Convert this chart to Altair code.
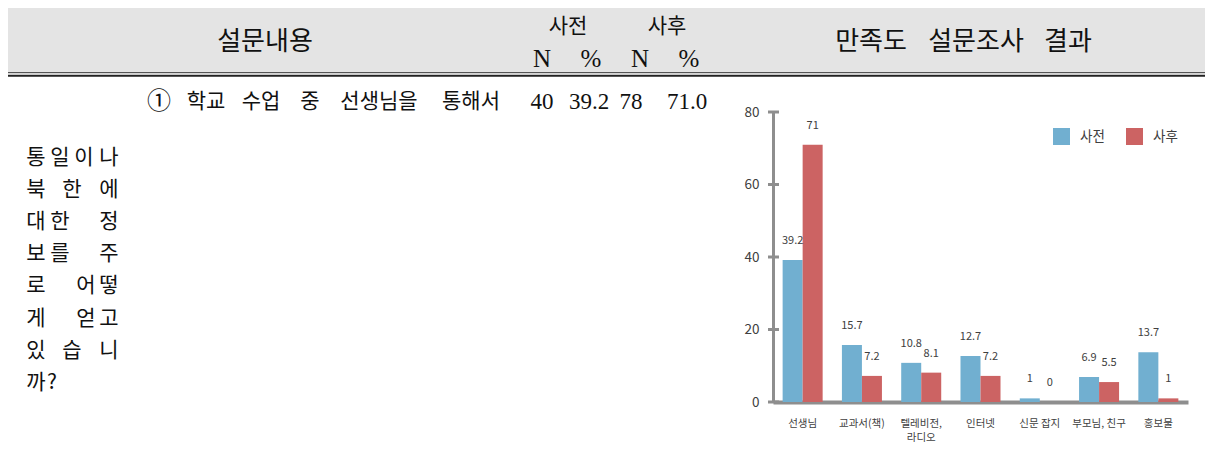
import altair as alt
import pandas as pd

# ---------------- data ----------------
categories = ["선생님", "교과서(책)", "텔레비전,\n라디오", "인터넷", "신문 잡지", "부모님, 친구", "홍보물"]
groups = ["사전", "사후"]
pre_values = [39.2, 15.7, 10.8, 12.7, 1, 6.9, 13.7]
post_values = [71, 7.2, 8.1, 7.2, 0, 5.5, 1]
y_ticks = [0, 20, 40, 60, 80]

header_left = "설문내용"
header_right_words = ["만족도", "설문조사", "결과"]
col_groups = ["사전", "사후"]
col_sub = ["N", "%", "N", "%"]
row_words = ["①", "학교", "수업", "중", "선생님을", "통해서"]
row_numbers = ["40", "39.2", "78", "71.0"]
question_lines = ["통일이나", "북한에", "대한정", "보를주", "로어떻", "게얻고", "있습니", "까?"]

# ---------------- layout (page pixels) ----------------
PX0, PY0 = 773, 112          # page position of plot origin
W, H = 415, 290
header_left_pos = (265, 42)
header_right_x = [871, 976, 1068]
col_group_x = [568, 667]
col_sub_x = [542, 591, 640, 689]
row_word_x = [159, 206, 261, 310, 379, 471]
row_word_fs = [24, 21, 21, 21, 21, 21]
row_num_x = [542, 589, 631, 687]
row_y = 102
q_slots = [[36, 60, 84, 109], [36, 72, 109], [36, 60, 109], [36, 60, 109],
           [36, 86, 109], [36, 86, 109], [36, 72, 109], [36, 52]]
q_y0, q_dy = 158, 32.1

sans_rows, serif_rows = [], []
def add(rows, t, x, y, fs):
    rows.append({"t": t, "px": x - PX0, "py": y - PY0, "fs": fs})

add(sans_rows, header_left, header_left_pos[0], header_left_pos[1], 26)
for w, x in zip(header_right_words, header_right_x):
    add(sans_rows, w, x, 42, 26)
for w, x in zip(col_groups, col_group_x):
    add(sans_rows, w, x, 26.5, 21)
for w, x in zip(col_sub, col_sub_x):
    add(serif_rows, w, x, 58.5, 25)
for w, x, fs in zip(row_words, row_word_x, row_word_fs):
    add(sans_rows, w, x, row_y, fs)
for w, x in zip(row_numbers, row_num_x):
    add(serif_rows, w, x, row_y, 23)
for i, (line, slots) in enumerate(zip(question_lines, q_slots)):
    for ch, x in zip(line, slots):
        add(sans_rows, ch, x, q_y0 + q_dy * i, 21)

sans_df = pd.DataFrame(sans_rows)
serif_df = pd.DataFrame(serif_rows)

bars_df = pd.DataFrame({
    "category": categories * 2,
    "group": [groups[0]] * len(categories) + [groups[1]] * len(categories),
    "value": pre_values + post_values,
})
ticks_df = pd.DataFrame({"value": y_ticks})
one = pd.DataFrame({"a": [0]})

AXIS_GRAY = "#8e8e8e"
TXT = "#404040"

x_enc = alt.X("category:N", sort=categories,
              scale=alt.Scale(paddingInner=0.325, paddingOuter=0.1625),
              axis=alt.Axis(title=None, labelAngle=0, ticks=False,
                            labelExpr="split(datum.label, '\\n')",
                            labelFontSize=10.5, labelPadding=16, labelColor=TXT,
                            labelLineHeight=14, labelBaseline="top",
                            domainColor=AXIS_GRAY, domainWidth=4))
xo_enc = alt.XOffset("group:N", sort=groups,
                     scale=alt.Scale(paddingInner=0, paddingOuter=0))
y_enc = alt.Y("value:Q", scale=alt.Scale(domain=[0, 80], nice=False),
              axis=alt.Axis(values=y_ticks, title=None, grid=False, ticks=False,
                            labelPadding=14, labelFontSize=13.5, labelColor=TXT,
                            domainColor=AXIS_GRAY, domainWidth=3))

header_bg = alt.Chart(one).mark_rect(color="#e4e4e4").encode(
    x=alt.value(6 - PX0), x2=alt.value(1212 - PX0),
    y=alt.value(6 - PY0), y2=alt.value(72 - PY0))
rule1 = alt.Chart(one).mark_rule(color="#555555", strokeWidth=1.3).encode(
    x=alt.value(8 - PX0), x2=alt.value(1212 - PX0), y=alt.value(72.6 - PY0))
rule2 = alt.Chart(one).mark_rule(color="#222222", strokeWidth=2).encode(
    x=alt.value(8 - PX0), x2=alt.value(1212 - PX0), y=alt.value(75.8 - PY0))

bars = alt.Chart(bars_df).mark_bar().encode(
    x=x_enc, xOffset=xo_enc, y=y_enc,
    color=alt.Color("group:N", sort=groups,
                    scale=alt.Scale(domain=groups, range=["#71afd0", "#cc6363"]),
                    legend=alt.Legend(title=None, orient="none", legendX=280, legendY=16,
                                      direction="horizontal", symbolType="square",
                                      symbolSize=289, symbolStrokeWidth=0,
                                      symbolOpacity=1, labelFontSize=13.5,
                                      labelColor=TXT, columnPadding=21,
                                      labelOffset=10, padding=0)))
labels = alt.Chart(bars_df).mark_text(dy=-19, baseline="middle", fontSize=11,
                                      color=TXT).encode(
    x=x_enc, xOffset=xo_enc, y=y_enc, text=alt.Text("value:N"))
caps = alt.Chart(ticks_df).mark_rule(color=AXIS_GRAY, strokeWidth=3).encode(
    y=y_enc, x=alt.value(-5), x2=alt.value(6))

def text_layer(df, font):
    return alt.Chart(df).mark_text(font=font, color="#111111", align="center",
                                   baseline="middle").encode(
        x=alt.X("px:Q", scale=None, axis=None),
        y=alt.Y("py:Q", scale=None, axis=None),
        size=alt.Size("fs:Q", scale=None, legend=None),
        text=alt.Text("t:N"))

sans_text = text_layer(sans_df, "Noto Sans CJK KR")
serif_text = text_layer(serif_df, "Liberation Serif")

chart = alt.layer(header_bg, rule1, rule2, bars, labels, caps, sans_text, serif_text).properties(
    width=W, height=H,
    autosize=alt.AutoSizeParams(type="none"),
    padding={"left": PX0 - 8, "top": PY0 - 8, "right": 1205 - PX0 - W, "bottom": 50},
).configure(font="Noto Sans CJK KR").configure_view(stroke=None)

chart.save("out.html", embed_options={"renderer": "svg", "actions": False})
